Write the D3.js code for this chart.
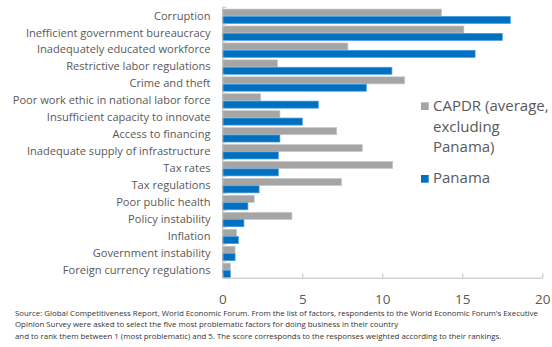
<!DOCTYPE html>
<html><head><meta charset="utf-8">
<script src="https://cdn.jsdelivr.net/npm/d3@7"></script>
<style>
html,body{margin:0;padding:0;background:#fff;}
svg{display:block;font-family:"Open Sans",sans-serif;}
</style></head>
<body><svg id="chart" width="552" height="347"></svg>
<script>
const categories = ["Corruption","Inefficient government bureaucracy","Inadequately educated workforce","Restrictive labor regulations","Crime and theft","Poor work ethic in national labor force","Insufficient capacity to innovate","Access to financing","Inadequate supply of infrastructure","Tax rates","Tax regulations","Poor public health","Policy instability","Inflation","Government instability","Foreign currency regulations"];
const capdrValues  = [13.7, 15.1, 7.85, 3.45, 11.4, 2.4, 3.6, 7.15, 8.75, 10.65, 7.45, 2.0, 4.35, 0.9, 0.8, 0.5];
const panamaValues = [18.0, 17.5, 15.8, 10.6, 9.0, 6.0, 5.0, 3.6, 3.5, 3.5, 2.3, 1.6, 1.35, 1.0, 0.8, 0.5];
const seriesNames = ["CAPDR (average, excluding Panama)", "Panama"];
const legendLines = [["CAPDR (average,", "excluding", "Panama)"], ["Panama"]];
const xTicks = [0, 5, 10, 15, 20];
const sourceLines = [
 "Source: Global Competitiveness  Report, World Economic Forum. From the list of factors, respondents to the World Economic Forum's Executive",
 "Opinion Survey were asked to select the five most problematic factors for doing business in their country",
 "and to rank them between 1 (most problematic) and 5. The score corresponds to the responses weighted according to their rankings."
];

const colors = ["#A5A5A5", "#0070C0"];
const strokes = ["#C8C8C8", "#4A9BD8"];
const svg = d3.select("#chart");
const pLeft = 222.3, pRight = 542.3, pTop = 6.7, pBottom = 277.7;

const x = d3.scaleLinear().domain([0, 20]).range([pLeft, pRight]);
const y0 = d3.scaleBand().domain(categories).range([pTop, pBottom]);
const bw = y0.bandwidth();
const y1 = d3.scaleBand().domain(seriesNames).range([bw * 0.14, bw * 0.99]).paddingInner(0.04);
const data = [capdrValues, panamaValues];

// bars
data.forEach((vals, si) => {
  svg.append("g").selectAll("rect").data(categories).join("rect")
    .attr("x", x(0))
    .attr("y", (c) => y0(c) + y1(seriesNames[si]))
    .attr("width", (c, i) => x(vals[i]) - x(0))
    .attr("height", y1.bandwidth())
    .attr("fill", colors[si])
    .attr("stroke", strokes[si])
    .attr("stroke-width", 0.7);
});

// y axis ticks (band boundaries)
const yIdx = d3.scaleLinear().domain([0, categories.length]).range([pTop, pBottom]);
const yAxisG = svg.append("g").attr("transform", `translate(${pLeft},0)`)
  .call(d3.axisLeft(yIdx).tickValues(d3.range(0, categories.length + 1)).tickSizeInner(-4).tickSizeOuter(0).tickFormat(""));
yAxisG.selectAll("line").attr("stroke", "#BFBFBF");
yAxisG.select(".domain").attr("stroke", "#BFBFBF");

// category labels
const labG = svg.append("g").attr("transform", `translate(210.5,0)`)
  .call(d3.axisLeft(y0).tickSize(0).tickPadding(0));
labG.select(".domain").remove();
labG.selectAll("text").attr("fill", "#595959").style("font-size", "12px").style("font-family", "'Open Sans',sans-serif").attr("dy", "0.4em");
let maxW = 0; labG.selectAll("text").each(function(){ maxW = Math.max(maxW, this.getComputedTextLength()); });
const labFs = 12 * 198 / maxW;
labG.selectAll("text").style("font-size", labFs + "px");

// x axis
const xAxisG = svg.append("g").attr("transform", `translate(0,${pBottom})`)
  .call(d3.axisBottom(x).tickValues(xTicks).tickSizeInner(-4).tickSizeOuter(0).tickPadding(17));
xAxisG.select(".domain").attr("stroke", "#BFBFBF");
xAxisG.selectAll("line").attr("stroke", "#BFBFBF");
xAxisG.selectAll("text").attr("fill", "#595959").style("font-size", "13.5px").style("font-family", "'Open Sans',sans-serif");

// legend
const legY = [[111, 131.5, 152], [183.3]];
const legSq = [102.3, 175];
legendLines.forEach((lines, si) => {
  svg.append("rect").attr("x", 421).attr("y", legSq[si]).attr("width", 7.7).attr("height", 7.7).attr("fill", colors[si]);
  lines.forEach((t, li) => {
    svg.append("text").attr("x", 433).attr("y", legY[si][li]).text(t)
      .attr("fill", "#595959").style("font-size", "15px");
  });
});

// source
const src = svg.append("g");
sourceLines.forEach((t, i) => {
  src.append("text").attr("x", 15).attr("y", [315.5, 326.5, 338.5][i]).text(t)
    .attr("fill", "#333").style("font-size", "7px");
});
const w0 = src.select("text").node().getComputedTextLength();
src.selectAll("text").style("font-size", (7 * 523 / w0) + "px");
</script>
</body></html>
